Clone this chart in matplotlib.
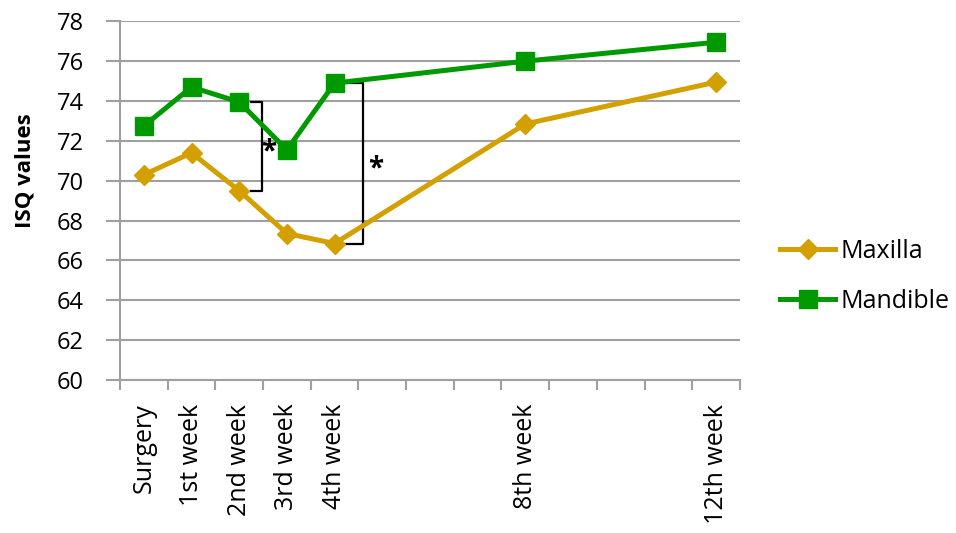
import matplotlib
matplotlib.use("Agg")
import matplotlib.pyplot as plt
import numpy as np

# weeks after surgery (position on a time axis)
weeks = [0, 1, 2, 3, 4, 8, 12]
week_labels = ["Surgery", "1st week", "2nd week", "3rd week", "4th week", "8th week", "12th week"]

maxilla = [70.3, 71.4, 69.5, 67.35, 66.85, 72.85, 74.95]
mandible = [72.75, 74.7, 73.95, 71.55, 74.9, 76.0, 76.95]

# significant differences between the groups (week index)
sig_weeks = [2, 4]

plt.rcParams['font.family'] = ['Open Sans', 'DejaVu Sans']

fig = plt.figure(figsize=(9.56, 5.33), dpi=100)
ax = fig.add_axes([0.1255, 0.287, 0.6485, 0.673])

gold = "#d4a000"
green = "#009a00"

ax.plot(weeks, maxilla, color=gold, lw=3.6, marker="D", ms=10.5, label="Maxilla",
        solid_joinstyle="round")
ax.plot(weeks, mandible, color=green, lw=3.6, marker="s", ms=13.5, label="Mandible",
        solid_joinstyle="round")

# brackets with asterisks
offsets = {2: (0.25, 0.48, 0.62), 4: (0.18, 0.6, 0.87)}
for w in sig_weeks:
    i = weeks.index(w)
    x0, x1, xs = offsets[w]
    top, bot = mandible[i], maxilla[i]
    ax.plot([w + x0, w + x1, w + x1, w + x0], [top, top, bot, bot],
            color="black", lw=1.6, zorder=1)
    ax.text(w + xs, (top + bot) / 2 - 0.3, "*", fontsize=20, fontweight="bold",
            ha="center", va="center")

ax.set_xlim(-0.5, 12.5)
ax.set_ylim(60, 78)
ax.set_yticks(np.arange(60, 79, 2))
ax.set_xticks(np.arange(-0.5, 12.6, 1))
ax.set_xticklabels([])
ax.set_xticks(weeks, minor=True)
ax.set_xticklabels(week_labels, minor=True, rotation=90, fontsize=18)
ax.tick_params(axis="x", which="minor", length=0, pad=17)
ax.tick_params(axis="x", which="major", length=7, direction="out", color="#a0a0a0", width=1.5)
ax.tick_params(axis="y", length=10, color="#a0a0a0", width=1.5, labelsize=17, pad=16)

ax.grid(axis="y", color="#a0a0a0", lw=1.5)
ax.set_axisbelow(True)
for s in ["top", "right"]:
    ax.spines[s].set_visible(False)
for s in ["left", "bottom"]:
    ax.spines[s].set_color("#a0a0a0")
    ax.spines[s].set_linewidth(1.5)

ax.set_ylabel("ISQ values", fontsize=16, fontweight="bold")
ax.yaxis.set_label_coords(-0.137, 0.585)

fig.legend(loc="center left", bbox_to_anchor=(0.816, 0.481), frameon=False,
           fontsize=18, handlelength=2.2, labelspacing=1.0, handletextpad=0.2,
           borderaxespad=0, borderpad=0)

fig.savefig("out.png", dpi=100)
